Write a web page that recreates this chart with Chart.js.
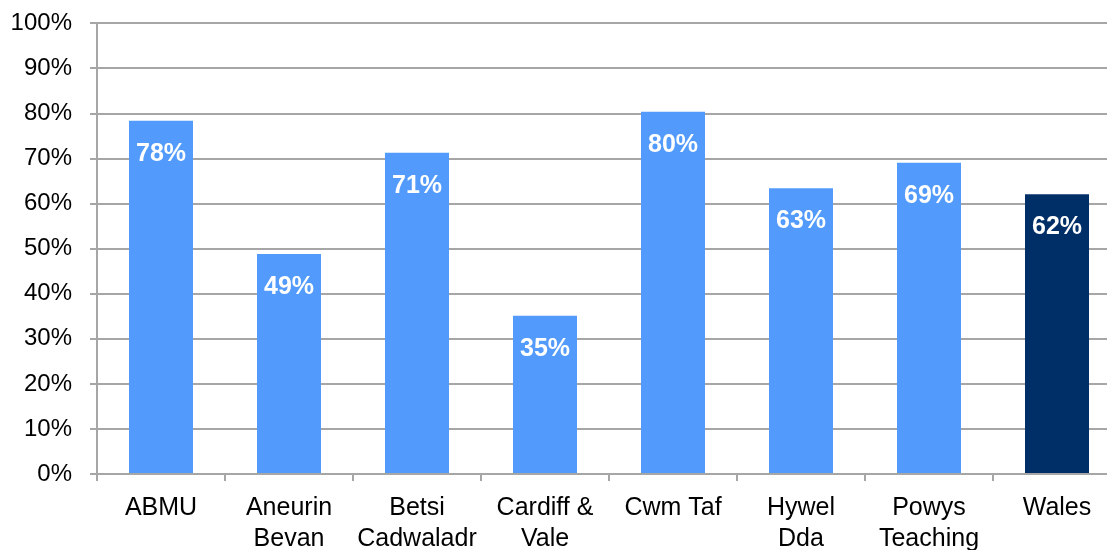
<!DOCTYPE html>
<html>
<head>
<meta charset="utf-8">
<script src="https://cdn.jsdelivr.net/npm/chart.js@4"></script>
<style>
    html, body { margin: 0; padding: 0; background: #fff; overflow: hidden; }
    #wrap { width: 1135px; height: 559px; margin-top: -9px; }
</style>
</head>
<body>
<div id="wrap"><canvas id="bar-chart"></canvas></div>
<script>
// 보건 위원회별 비율 (%)
const boards = [['ABMU'], ['Aneurin', 'Bevan'], ['Betsi', 'Cadwaladr'], ['Cardiff &', 'Vale'],
    ['Cwm Taf'], ['Hywel', 'Dda'], ['Powys', 'Teaching'], ['Wales']];
const percents = [78.4, 48.8, 71.3, 35.1, 80.4, 63.4, 69.1, 62.1];
const barColors = ['#529BFC', '#529BFC', '#529BFC', '#529BFC', '#529BFC', '#529BFC', '#529BFC', '#002E67'];
const yTicks = [0, 10, 20, 30, 40, 50, 60, 70, 80, 90, 100];

const FONT = 'Liberation Sans, Arial, sans-serif';
const GRID = '#a6a6a6';

// 막대 안쪽 위에 흰색 라벨 그리기
const innerLabels = {
    id: 'innerLabels',
    afterDatasetsDraw(chart) {
        const ctx = chart.ctx;
        const meta = chart.getDatasetMeta(0);
        ctx.save();
        ctx.fillStyle = '#ffffff';
        ctx.font = 'bold 25px ' + FONT;
        ctx.textAlign = 'center';
        ctx.textBaseline = 'middle';
        meta.data.forEach(function (bar, i) {
            ctx.fillText(Math.round(percents[i]) + '%', bar.x, bar.y + 33);
        });
        ctx.restore();
    }
};

const ctx = document.getElementById('bar-chart').getContext('2d');
new Chart(ctx, {
    type: 'bar',
    data: {
        labels: boards,
        datasets: [{
            data: percents,
            backgroundColor: barColors,
            barPercentage: 0.5,
            categoryPercentage: 1.0
        }]
    },
    options: {
        responsive: true,
        maintainAspectRatio: false,
        animation: false,
        layout: { padding: { top: 13, right: 14, left: 0, bottom: 0 } },
        plugins: {
            legend: { display: false },
            tooltip: { enabled: false }
        },
        scales: {
            x: {
                grid: {
                    offset: true,
                    drawOnChartArea: false,
                    drawTicks: true,
                    tickLength: 7,
                    color: GRID,
                    lineWidth: 2
                },
                border: { color: GRID, width: 2 },
                ticks: {
                    color: '#000',
                    font: { family: FONT, size: 25, lineHeight: 1.25 },
                    padding: 11,
                    maxRotation: 0,
                    autoSkip: false
                },
                afterFit: function (scale) { scale.height = 76; }
            },
            y: {
                min: 0,
                max: 100,
                afterBuildTicks: function (scale) {
                    scale.ticks = yTicks.map(v => ({ value: v }));
                },
                grid: {
                    color: GRID,
                    lineWidth: 2,
                    drawTicks: true,
                    tickLength: 7
                },
                border: { color: GRID, width: 2 },
                ticks: {
                    color: '#000',
                    font: { family: FONT, size: 24 },
                    padding: 18,
                    callback: function (v) { return v + '%'; }
                },
                afterFit: function (scale) { scale.width = 97; }
            }
        }
    },
    plugins: [innerLabels]
});
</script>
</body>
</html>
